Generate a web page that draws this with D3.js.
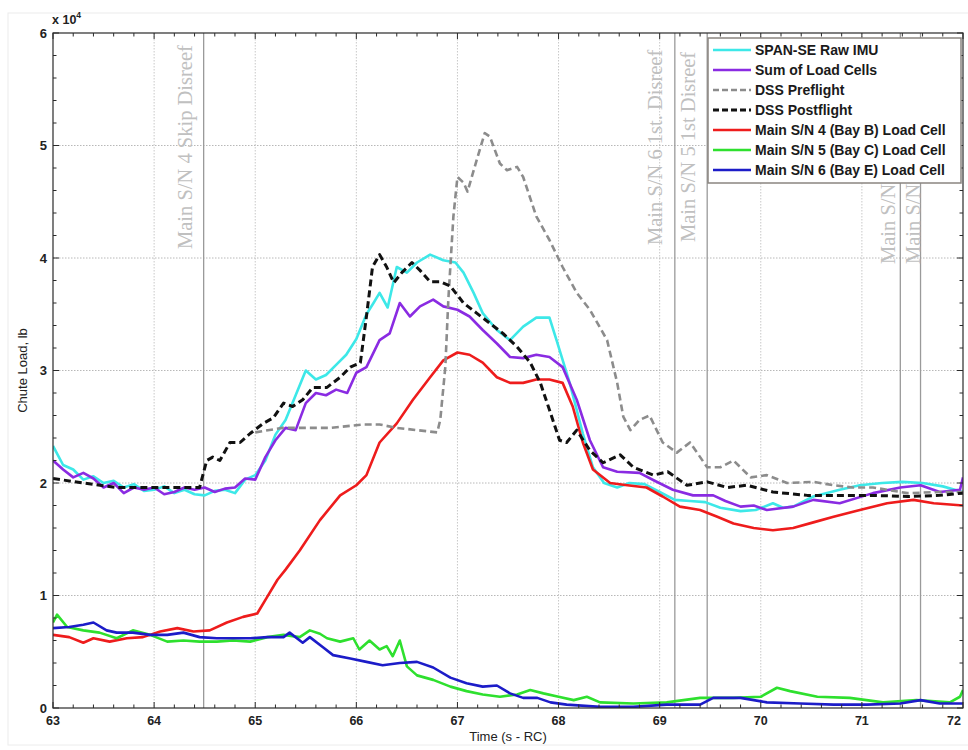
<!DOCTYPE html>
<html>
<head>
<meta charset="utf-8">
<script src="https://cdn.jsdelivr.net/npm/d3@7"></script>
<style>
  html, body { margin: 0; padding: 0; background: #fff; }
  svg { display: block; }
</style>
</head>
<body>
<svg id="chart" width="968" height="750"></svg>
<script>
// ---------------- DATA ----------------
const xTicks = [63, 64, 65, 66, 67, 68, 69, 70, 71, 72];
const yTicks = [0, 10000, 20000, 30000, 40000, 50000, 60000];
const yTickLabels = ["0", "1", "2", "3", "4", "5", "6"];

const seriesNames = [
  "SPAN-SE Raw IMU", "Sum of Load Cells", "DSS Preflight", "DSS Postflight",
  "Main S/N 4 (Bay B) Load Cell", "Main S/N 5 (Bay C) Load Cell", "Main S/N 6 (Bay E) Load Cell"
];

const imuT = [63.0,63.1,63.2,63.3,63.4,63.5,63.6,63.7,63.8,63.9,64.0,64.1,64.2,64.3,64.4,64.5,64.6,64.7,64.8,64.9,65.0,65.1,65.2,65.3,65.4,65.5,65.6,65.7,65.8,65.9,66.0,66.1,66.17,66.23,66.31,66.4,66.5,66.6,66.73,66.86,66.98,67.06,67.16,67.25,67.39,67.52,67.65,67.78,67.91,67.98,68.11,68.24,68.34,68.45,68.58,68.7,68.85,69.0,69.15,69.3,69.45,69.6,69.8,69.95,70.12,70.22,70.32,70.52,70.78,70.98,71.2,71.4,71.6,71.8,72.0];
const imuV = [23300,21600,21200,20300,20600,20000,20200,19600,19900,19300,19400,19700,19100,19400,19000,18900,19300,19400,19100,20300,20700,22000,24300,25600,27800,30000,29200,29600,30500,31400,32800,35000,36000,36900,35600,39200,38700,39600,40300,39800,39600,38700,36900,35100,33600,32700,33900,34700,34700,32700,28900,24400,21400,20000,19600,20000,19900,19200,18500,18400,18300,17800,17500,17600,18200,17800,17900,18800,19400,19800,20000,20100,20000,19700,19200];

const sumT = [63.0,63.1,63.2,63.3,63.4,63.5,63.6,63.7,63.8,63.9,64.0,64.1,64.2,64.3,64.4,64.5,64.6,64.7,64.8,64.9,65.0,65.1,65.2,65.3,65.4,65.5,65.6,65.7,65.8,65.91,66.0,66.1,66.23,66.33,66.43,66.53,66.63,66.76,66.86,67.0,67.12,67.25,67.39,67.52,67.65,67.78,67.91,68.04,68.18,68.31,68.44,68.58,68.8,68.95,69.13,69.33,69.53,69.65,69.8,69.93,70.06,70.32,70.52,70.78,71.11,71.38,71.58,71.77,71.97,72.0];
const sumV = [22000,21200,20500,20900,20400,19600,20000,19100,19600,19400,19600,19000,19200,19600,19400,19600,19200,19500,19600,20400,20300,22300,23800,24900,24700,27100,28000,27800,28300,28000,29800,30300,32700,33300,36000,34800,35700,36300,35700,35400,34800,33600,32400,31200,31100,31400,31200,30300,27400,23800,21400,21000,20900,20200,19400,18900,18900,18400,17900,18000,17600,17900,18500,18200,19100,19600,19800,19200,19400,20500];

const preT = [65.0,65.27,65.74,66.07,66.23,66.4,66.6,66.8,66.83,66.88,66.91,66.96,67.0,67.06,67.1,67.19,67.27,67.32,67.42,67.49,67.59,67.65,67.78,67.91,68.04,68.18,68.31,68.48,68.58,68.64,68.71,68.8,68.9,69.03,69.17,69.3,69.47,69.6,69.73,69.9,70.06,70.26,70.52,70.72,70.91,71.11,71.45,71.77,72.0];
const preV = [24500,24900,24900,25200,25200,24900,24700,24500,25600,30300,36300,43700,47200,46700,45900,48700,51100,50800,48400,47800,48100,47200,43700,41600,39200,36900,35400,32700,28900,25900,24700,25600,26000,23600,22700,23600,21400,21400,22000,20500,20700,20000,20100,19800,19600,19600,19100,19200,19200];

const postT = [63.0,63.3,63.63,63.96,64.29,64.45,64.52,64.58,64.65,64.75,64.85,64.95,65.08,65.18,65.28,65.37,65.47,65.57,65.71,65.84,65.94,66.04,66.1,66.16,66.23,66.3,66.37,66.45,66.55,66.63,66.73,66.83,66.93,67.06,67.19,67.32,67.45,67.59,67.72,67.82,67.91,68.01,68.08,68.18,68.31,68.44,68.61,68.74,68.94,69.08,69.27,69.47,69.67,69.86,70.12,70.46,70.78,71.11,71.45,71.77,72.0];
const postV = [20400,20000,19600,19600,19600,19600,22000,22300,22000,23600,23600,24400,25300,25800,27100,26800,27400,28500,28500,29400,30300,30700,34800,39200,40300,39200,37800,38700,39600,38900,37900,37900,37500,36000,35100,34200,33300,32100,30700,28900,26500,23800,23600,24700,22900,21800,22500,21400,20700,21000,19800,20100,19600,19800,19200,18900,18900,18900,18800,18900,19100];

const bayBT = [63.0,63.16,63.3,63.4,63.56,63.73,63.89,64.06,64.23,64.39,64.55,64.72,64.88,65.02,65.12,65.22,65.3,65.44,65.64,65.84,66.0,66.1,66.23,66.4,66.56,66.73,66.86,67.0,67.12,67.25,67.39,67.52,67.65,67.78,67.91,68.04,68.14,68.24,68.34,68.51,68.68,68.87,69.03,69.2,69.4,69.57,69.73,69.93,70.12,70.32,70.52,70.72,70.98,71.25,71.51,71.71,72.0];
const bayBV = [6500,6300,5800,6200,5900,6200,6300,6800,7100,6800,6900,7600,8100,8400,9900,11400,12300,14000,16700,18900,19800,20700,23600,25300,27400,29400,30900,31600,31400,30700,29400,28900,28900,29200,29200,28900,26800,23600,21200,20000,19800,19600,18800,17900,17600,17000,16400,16000,15800,16000,16500,17000,17600,18200,18500,18200,18000];

const bayCT = [63.0,63.04,63.14,63.3,63.46,63.63,63.79,63.96,64.13,64.29,64.45,64.62,64.78,64.95,65.12,65.28,65.44,65.54,65.64,65.71,65.84,65.97,66.03,66.13,66.23,66.3,66.36,66.43,66.5,66.6,66.76,66.93,67.09,67.25,67.42,67.59,67.72,67.85,68.0,68.15,68.28,68.41,68.74,69.07,69.4,69.73,70.0,70.16,70.29,70.56,70.88,71.21,71.54,71.87,71.97,72.0];
const bayCV = [7600,8300,7200,6900,6700,6200,6900,6500,5900,6000,5900,5900,6000,5900,6300,6500,6300,6900,6600,6200,5900,6200,5200,6000,5200,5500,4600,6000,3700,2900,2500,1900,1500,1200,1000,1200,1600,1300,1000,700,1000,500,400,500,900,900,1000,1800,1500,1000,900,500,700,500,1000,1600];

const bayET = [63.0,63.16,63.3,63.4,63.53,63.63,63.79,63.96,64.13,64.29,64.45,64.62,64.78,64.95,65.12,65.28,65.34,65.47,65.54,65.67,65.77,65.94,66.1,66.26,66.43,66.6,66.76,66.93,67.09,67.25,67.39,67.52,67.65,67.79,67.92,68.08,68.41,68.74,69.07,69.4,69.53,69.8,70.06,70.39,70.72,71.05,71.38,71.58,71.77,72.0];
const bayEV = [7100,7200,7400,7600,6900,6700,6700,6500,6500,6700,6300,6200,6200,6200,6300,6300,6700,5800,6300,5400,4700,4400,4100,3800,4000,4100,3600,2700,2200,1900,2000,1300,900,900,500,300,100,100,300,300,900,900,500,400,300,300,400,700,400,400];

const eventT = [64.49, 69.15, 69.47, 71.38, 71.58];
const eventLabels = ["Main S/N 4 Skip Disreef", "Main S/N 6 1st. Disreef", "Main S/N 5 1st Disreef", "Main S/N", "Main S/N"];

// ---------------- LAYOUT ----------------
const svg = d3.select("#chart");
const L = 53, R = 963, T = 33, B = 708;
const x = d3.scaleLinear().domain([63, 72]).range([L, R]);
const y = d3.scaleLinear().domain([0, 60000]).range([B, T]);
const FONT = "'Liberation Sans', Arial, Helvetica, sans-serif";

// faint figure border
svg.append("rect").attr("x", 8).attr("y", 13).attr("width", 980).attr("height", 732)
  .attr("fill", "none").attr("stroke", "#ececec").attr("stroke-width", 1);

// plot background
svg.append("rect").attr("x", L).attr("y", T).attr("width", R - L).attr("height", B - T).attr("fill", "#fff");

// grid
const grid = svg.append("g");
grid.selectAll("line.gx").data(xTicks.slice(1, -1)).join("line")
  .attr("x1", d => x(d)).attr("x2", d => x(d)).attr("y1", T).attr("y2", B)
  .attr("stroke", "#c8c8c8").attr("stroke-width", 1).attr("stroke-dasharray", "1.5,1.5");
grid.selectAll("line.gy").data(yTicks.slice(1, -1)).join("line")
  .attr("x1", L).attr("x2", R).attr("y1", d => y(d)).attr("y2", d => y(d))
  .attr("stroke", "#b8b8b8").attr("stroke-width", 1).attr("stroke-dasharray", "1.5,1.5");

// event lines
svg.append("g").selectAll("line").data(eventT).join("line")
  .attr("x1", d => x(d)).attr("x2", d => x(d)).attr("y1", T).attr("y2", B)
  .attr("stroke", "#9a9a9a").attr("stroke-width", 1.3);

// event annotation text (rotated)
const annot = [
  { t: eventT[0], dx: -19, yStart: 249, text: eventLabels[0] },
  { t: eventT[1], dx: -20, yStart: 245, text: eventLabels[1] },
  { t: eventT[2], dx: -19, yStart: 242, text: eventLabels[2] },
  { t: eventT[3], dx: -12, yStart: 264, text: eventLabels[3] },
  { t: eventT[4], dx: -8, yStart: 264, text: eventLabels[4] }
];
svg.append("g").selectAll("text").data(annot).join("text")
  .attr("transform", d => `translate(${x(d.t) + d.dx},${d.yStart}) rotate(-90)`)
  .attr("font-family", "'Liberation Serif', 'Times New Roman', serif")
  .attr("font-size", 20.5).attr("fill", "#c0c0c0")
  .attr("dy", "0.35em")
  .text(d => d.text);

// series
const series = [
  { t: imuT, v: imuV, color: "#3de8e8", w: 2.6, dash: null },
  { t: sumT, v: sumV, color: "#8a2be2", w: 2.6, dash: null },
  { t: bayBT, v: bayBV, color: "#ee1c1c", w: 2.6, dash: null },
  { t: bayCT, v: bayCV, color: "#2ee02e", w: 2.6, dash: null },
  { t: bayET, v: bayEV, color: "#1c1cc8", w: 2.6, dash: null },
  { t: preT, v: preV, color: "#8c8c8c", w: 2.6, dash: "7,4" },
  { t: postT, v: postV, color: "#111111", w: 3, dash: "7,4" }
];
const line = d3.line().x(d => x(d[0])).y(d => y(d[1]));
const clip = svg.append("clipPath").attr("id", "clip").append("rect")
  .attr("x", L).attr("y", T).attr("width", R - L).attr("height", B - T);
svg.append("g").attr("clip-path", "url(#clip)").selectAll("path").data(series).join("path")
  .attr("d", s => line(s.t.map((t, i) => [t, s.v[i]])))
  .attr("fill", "none").attr("stroke", s => s.color).attr("stroke-width", s => s.w)
  .attr("stroke-linejoin", "round")
  .attr("stroke-dasharray", s => s.dash);

// axes box
const axisColor = "#2a2a2a";
svg.append("rect").attr("x", L).attr("y", T).attr("width", R - L).attr("height", B - T)
  .attr("fill", "none").attr("stroke", axisColor).attr("stroke-width", 1.2);

// ticks (inward, on all four sides)
const xMinor = d3.range(63, 72.0001, 0.2);
const yMinor = d3.range(0, 60001, 2000);
const tk = svg.append("g").attr("stroke", axisColor).attr("stroke-width", 1);
xMinor.forEach(v => {
  const len = Math.abs(v - Math.round(v)) < 1e-6 ? 6 : 3.5;
  tk.append("line").attr("x1", x(v)).attr("x2", x(v)).attr("y1", B).attr("y2", B - len);
  tk.append("line").attr("x1", x(v)).attr("x2", x(v)).attr("y1", T).attr("y2", T + len);
});
yMinor.forEach(v => {
  const len = v % 10000 === 0 ? 6 : 3.5;
  tk.append("line").attr("x1", L).attr("x2", L + len).attr("y1", y(v)).attr("y2", y(v));
  tk.append("line").attr("x1", R).attr("x2", R - len).attr("y1", y(v)).attr("y2", y(v));
});

// tick labels
svg.append("g").selectAll("text").data(xTicks).join("text")
  .attr("x", d => Math.min(x(d), 954)).attr("y", B + 17)
  .attr("text-anchor", "middle").attr("font-family", FONT).attr("font-size", 12.5)
  .attr("font-weight", "bold").attr("fill", "#222").text(d => d);
svg.append("g").selectAll("text").data(yTicks).join("text")
  .attr("x", L - 6).attr("y", d => y(d)).attr("dy", "0.35em")
  .attr("text-anchor", "end").attr("font-family", FONT).attr("font-size", 13)
  .attr("font-weight", "bold").attr("fill", "#222").text((d, i) => yTickLabels[i]);

// exponent label
const ex = svg.append("text").attr("x", 52).attr("y", 24)
  .attr("font-family", FONT).attr("font-size", 12.5).attr("font-weight", "bold").attr("fill", "#222");
ex.append("tspan").text("x 10");
ex.append("tspan").attr("dy", -6).attr("font-size", 8.5).text("4");

// axis titles
svg.append("text").attr("x", (L + R) / 2).attr("y", 741)
  .attr("text-anchor", "middle").attr("font-family", FONT).attr("font-size", 13)
  .attr("fill", "#222").text("Time (s - RC)");
svg.append("text").attr("transform", `translate(27,${(T + B) / 2}) rotate(-90)`)
  .attr("text-anchor", "middle").attr("font-family", FONT).attr("font-size", 13)
  .attr("fill", "#222").text("Chute Load, lb");

// legend
const lg = svg.append("g");
const lx = 708, ly = 38, lw = 253, lh = 145;
lg.append("rect").attr("x", lx).attr("y", ly).attr("width", lw).attr("height", lh)
  .attr("fill", "#fff").attr("stroke", "#8a8580").attr("stroke-width", 1.5);
const legendStyles = [series[0], series[1], series[5], series[6], series[2], series[3], series[4]];
seriesNames.forEach((name, i) => {
  const yy = ly + 12 + i * 20;
  const s = legendStyles[i];
  lg.append("line").attr("x1", lx + 5).attr("x2", lx + 43).attr("y1", yy).attr("y2", yy)
    .attr("stroke", s.color).attr("stroke-width", s.w).attr("stroke-dasharray", s.dash ? "6,3" : null);
  lg.append("text").attr("x", lx + 47).attr("y", yy).attr("dy", "0.36em")
    .attr("font-family", FONT).attr("font-size", 14).attr("font-weight", "bold")
    .attr("fill", "#1a1a1a").text(name);
});
</script>
</body>
</html>
